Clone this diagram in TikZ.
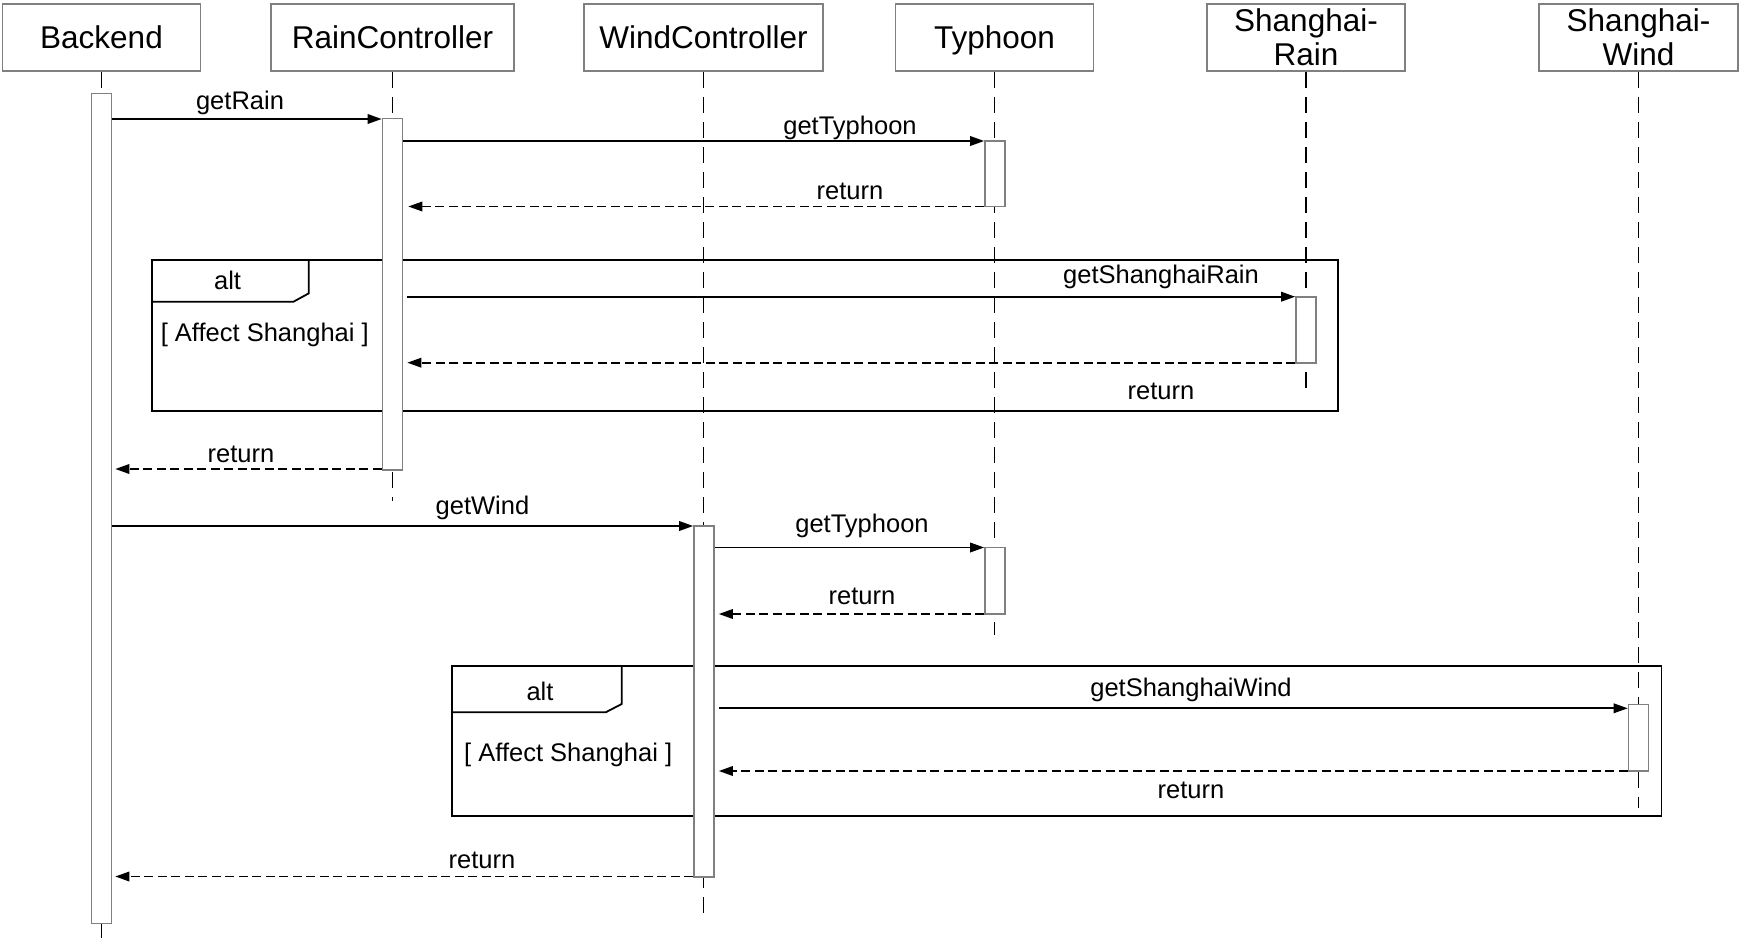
\documentclass[tikz,border=0pt]{standalone}
\usepackage{fontspec}
\setmainfont{Liberation Sans}
\usetikzlibrary{arrows.meta}
\definecolor{bordergray}{HTML}{808080}
\begin{document}
\begin{tikzpicture}[x=1pt,y=-1pt,
  head/.style={draw=bordergray, line width=1.6pt, fill=white, inner sep=0pt, minimum height=67pt, align=center, font=\fontsize{31.5}{34}\selectfont},
  onehead/.style={head, text height=24pt, text depth=1.4pt},
  lifeline/.style={draw=black, line width=1.7pt, dash pattern=on 16pt off 9pt},
  actbar/.style={draw=bordergray, line width=1.6pt, fill=white, minimum width=20pt, inner sep=0pt},
  msg/.style={draw=black, line width=1.8pt, -{Triangle[length=14pt,width=9.5pt]}},
  ret/.style={msg, dash pattern=on 9pt off 4.5pt},
  lbl/.style={inner sep=0pt, font=\fontsize{25.5}{28}\selectfont},
  altframe/.style={draw=black, line width=1.8pt},
]
\useasboundingbox (0,0) rectangle (1740,952);

% headers
\node[onehead, minimum width=198pt] (bk) at (101.5,37.7) {Backend};
\node[onehead, minimum width=243pt] (rc) at (392.5,37.7) {RainController};
\node[onehead, minimum width=239pt] (wc) at (703.5,37.7) {WindController};
\node[onehead, minimum width=198pt] (ty) at (994.5,37.7) {Typhoon};
\node[head, minimum width=198pt] (sr) at (1306,37.7) {Shanghai-\\Rain};
\node[head, minimum width=199pt] (sw) at (1638.5,37.7) {Shanghai-\\Wind};

% lifeline ends
\coordinate (bkEnd) at (101.5,945.7);
\coordinate (rcEnd) at (392.5,500.7);
\coordinate (wcEnd) at (703.5,917);
\coordinate (tyEnd) at (994.5,635);
\coordinate (srEnd) at (1306,390.7);
\coordinate (swEnd) at (1638.5,808);

\draw[lifeline] (bk.south) -- (bkEnd);
\draw[lifeline] (rc.south) -- (rcEnd);
\draw[lifeline] (wc.south) -- (wcEnd);
\draw[lifeline] (ty.south) -- (tyEnd);
\draw[lifeline] (sr.south) -- (srEnd);
\draw[lifeline] (sw.south) -- (swEnd);

% alt frames
\draw[altframe] (152,260) rectangle (1338,411);
\draw[altframe] (152,301.7) -- (293.5,301.7) -- (308.7,293.4) -- (308.7,260);
\node[lbl] (alt1) at (227.6,280.7) {alt};
\node[lbl, anchor=west] (cond1) at (160.6,335) {[ Affect Shanghai ]};

\draw[altframe] (451.7,665.7) rectangle (1661.5,815.7);
\draw[altframe] (451.7,712.3) -- (605.7,712.3) -- (621.7,704) -- (621.7,665.7);
\node[lbl] (alt2) at (540,691.7) {alt};
\node[lbl, anchor=west] (cond2) at (464,755) {[ Affect Shanghai ]};

% activation bars
\node[actbar, minimum height=830pt] (bkA) at (101.5,508.4) {};
\node[actbar, minimum height=351.5pt] (rcA) at (392.5,294.25) {};
\node[actbar, minimum height=65.7pt] (tyA) at (995,173.8) {};
\node[actbar, minimum height=66pt] (srA) at (1306,329.7) {};
\node[actbar, minimum height=351pt] (wcA) at (704,701.5) {};
\node[actbar, minimum height=66.5pt] (tyB) at (995,580.75) {};
\node[actbar, minimum height=66.4pt] (swA) at (1638.5,737.5) {};

% message levels
\coordinate (m1) at (0,119);
\coordinate (m2) at (0,141);
\coordinate (m3) at (0,206.5);
\coordinate (m4) at (0,296.7);
\coordinate (m5) at (0,362.7);
\coordinate (m6) at (0,469);
\coordinate (m7) at (0,526);
\coordinate (m8) at (0,547.5);
\coordinate (m9) at (0,614);
\coordinate (m10) at (0,708.3);
\coordinate (m11) at (0,771);
\coordinate (m12) at (0,876.5);

\draw[msg] (bkA.east |- m1) -- (rcA.west |- m1);
\node[lbl] (l1) at (240,103) {getRain};
\draw[msg] (rcA.east |- m2) -- (tyA.west |- m2);
\node[lbl] (l2) at (850,128) {getTyphoon};
\draw[ret, shorten >=5pt] (tyA.west |- m3) -- (rcA.east |- m3);
\node[lbl] (l3) at (850,191.5) {return};
\draw[msg, shorten <=4pt] (rcA.east |- m4) -- (srA.west |- m4);
\node[lbl] (l4) at (1161,276.7) {getShanghaiRain};
\draw[ret, shorten >=4pt] (srA.west |- m5) -- (rcA.east |- m5);
\node[lbl] (l5) at (1161,391.7) {return};
\draw[ret, shorten >=3pt] (rcA.west |- m6) -- (bkA.east |- m6);
\node[lbl] (l6) at (241,454) {return};
\draw[msg] (bkA.east |- m7) -- (wcA.west |- m7);
\node[lbl] (l7) at (482.5,508) {getWind};
\draw[msg] (wcA.east |- m8) -- (tyB.west |- m8);
\node[lbl] (l8) at (862,526) {getTyphoon};
\draw[ret, shorten >=4pt] (tyB.west |- m9) -- (wcA.east |- m9);
\node[lbl] (l9) at (862,596) {return};
\draw[msg, shorten <=4pt] (wcA.east |- m10) -- (swA.west |- m10);
\node[lbl] (l10) at (1191,690) {getShanghaiWind};
\draw[ret, shorten >=4pt] (swA.west |- m11) -- (wcA.east |- m11);
\node[lbl] (l11) at (1191,790) {return};
\draw[ret, shorten >=3pt] (wcA.west |- m12) -- (bkA.east |- m12);
\node[lbl] (l12) at (482,860) {return};
\end{tikzpicture}
\end{document}
